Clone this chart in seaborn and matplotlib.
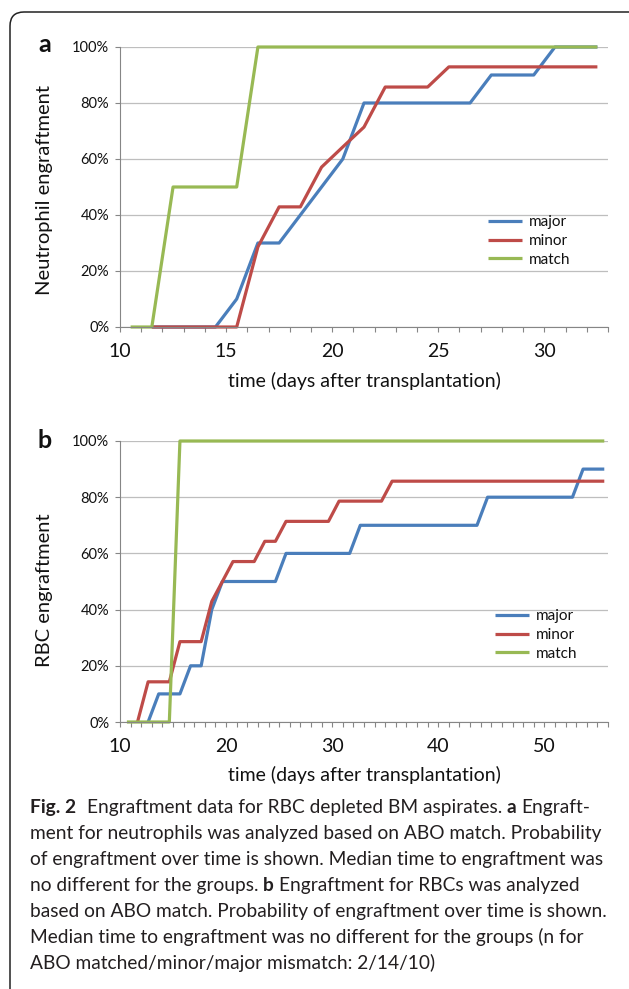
import numpy as np
import pandas as pd
import matplotlib
matplotlib.use("Agg")
import matplotlib.pyplot as plt
import seaborn as sns
from matplotlib.patches import FancyBboxPatch
from matplotlib.lines import Line2D
from matplotlib.ticker import FuncFormatter
from matplotlib.transforms import IdentityTransform

# ---------------- data ----------------
groups = ["major", "minor", "match"]

# Panel a: neutrophil engraftment (%), one value per day (None = no point)
days_a = [10, 11, 12, 13, 14, 15, 16, 17, 18, 19, 20, 21, 22, 23, 24, 25, 26, 27, 28, 29, 30, 31, 32]
major_a = [None, 0, 0, 0, 0, 10, 30, 30, 40, 50, 60, 80, 80, 80, 80, 80, 80, 90, 90, 90, 100, 100, 100]
minor_a = [None, 0, 0, 0, 0, 0, 28.6, 42.9, 42.9, 57.1, 64.3, 71.4, 85.7, 85.7, 85.7,
           92.9, 92.9, 92.9, 92.9, 92.9, 92.9, 92.9, 92.9]
match_a = [0, 0, 50, 50, 50, 50, 100, 100, 100, 100, 100, 100, 100, 100, 100, 100, 100,
           100, 100, 100, 100, 100, 100]

# Panel b: RBC engraftment (%)
days_b = [10, 11, 12, 13, 14, 15, 16, 17, 18, 19, 20, 21, 22, 23, 24, 25, 26, 27, 28, 29,
          30, 31, 32, 33, 34, 35, 36, 37, 38, 39, 40, 41, 42, 43, 44, 45, 46, 47, 48, 49,
          50, 51, 52, 53, 54, 55]
major_b = [None, None, 0, 10, 10, 10, 20, 20, 40, 50, 50, 50, 50, 50, 50, 60, 60, 60, 60, 60,
           60, 60, 70, 70, 70, 70, 70, 70, 70, 70, 70, 70, 70, 70, 80, 80, 80, 80, 80, 80,
           80, 80, 80, 90, 90, 90]
minor_b = [None, 0, 14.3, 14.3, 14.3, 28.6, 28.6, 28.6, 42.9, 50, 57.1, 57.1, 57.1, 64.3, 64.3,
           71.4, 71.4, 71.4, 71.4, 71.4, 78.6, 78.6, 78.6, 78.6, 78.6, 85.7, 85.7, 85.7, 85.7,
           85.7, 85.7, 85.7, 85.7, 85.7, 85.7, 85.7, 85.7, 85.7, 85.7, 85.7, 85.7, 85.7, 85.7,
           85.7, 85.7, 85.7]
match_b = [0, 0, 0, 0, 0] + [100] * 41

xticks_a = [10, 15, 20, 25, 30]
xticks_b = [10, 20, 30, 40, 50]
yticks = [0, 20, 40, 60, 80, 100]

caption_lines = [
    [("Fig. 2", True, 2.2), ("Engraftment data for RBC depleted BM aspirates.", False, 1),
     ("a", True, 1), ("Engraft-", False, 0)],
    [("ment for neutrophils was analyzed based on ABO match. Probability", False, 0)],
    [("of engraftment over time is shown. Median time to engraftment was", False, 0)],
    [("no different for the groups.", False, 1), ("b", True, 1),
     ("Engraftment for RBCs was analyzed", False, 0)],
    [("based on ABO match. Probability of engraftment over time is shown.", False, 0)],
    [("Median time to engraftment was no different for the groups (n for", False, 0)],
    [("ABO matched/minor/major mismatch: 2/14/10)", False, 0)],
]

# ---------------- style ----------------
palette = {"major": "#4A7EBB", "minor": "#BE4B48", "match": "#98B954"}
sns.set_theme(style="white")
FONT = ["Lato", "DejaVu Sans"]
plt.rcParams["font.family"] = FONT
TXT = "#111111"
AXC = "#868686"

W, H = 629, 989
fig = plt.figure(figsize=(W / 100, H / 100), dpi=100)
fig.patch.set_facecolor("white")


def fx(px):
    return px / W


def fy(py):
    return 1 - py / H


def panel(ax, days, series, offset, xmax, xt, ylabel, yl_center, letter, letter_y, xl_y, leg_xy):
    rows = []
    for name in groups:
        for d, v in zip(days, series[name]):
            if v is not None:
                rows.append({"time": d + offset, "pct": v, "group": name})
    df = pd.DataFrame(rows)
    sns.lineplot(data=df, x="time", y="pct", hue="group", hue_order=groups,
                 palette=palette, estimator=None, sort=False, linewidth=2.3,
                 legend=False, ax=ax)
    for ln in ax.lines:
        ln.set_clip_on(False)
        ln.set_solid_capstyle("butt")
        ln.set_solid_joinstyle("round")
    ax.set_xlim(10, xmax)
    ax.set_ylim(0, 100)
    ax.set_xticks(xt)
    ax.set_xticks(np.arange(10, xmax + 0.5, 1), minor=True)
    ax.set_yticks(yticks)
    ax.yaxis.set_major_formatter(FuncFormatter(lambda v, _: f"{int(v)}%"))
    ax.yaxis.grid(True, color="#BEBEBE", lw=0.9)
    ax.xaxis.grid(False)
    ax.set_axisbelow(True)
    for s in ["top", "right"]:
        ax.spines[s].set_visible(False)
    for s in ["left", "bottom"]:
        ax.spines[s].set_color(AXC)
        ax.spines[s].set_linewidth(0.8)
    ax.tick_params(axis="x", which="both", direction="out", length=3.8, width=0.8,
                   color=AXC, labelsize=14, pad=7.5, labelcolor=TXT, bottom=True)
    ax.tick_params(axis="y", which="both", direction="out", length=3.8, width=0.8,
                   color=AXC, labelsize=10.5, pad=4, labelcolor=TXT, left=True)
    ax.set_xlabel("")
    ax.set_ylabel("")
    fig.text(fx(45), fy(yl_center), ylabel, rotation=90, ha="center", va="center",
             fontsize=14.5, color=TXT)
    fig.text(fx(364), fy(xl_y), "time (days after transplantation)", ha="center",
             va="center", fontsize=14, color=TXT)
    fig.text(fx(45), fy(letter_y), letter, ha="center", va="center", fontsize=18,
             fontweight="bold", color=TXT)
    handles = [Line2D([], [], color=palette[g], lw=2.3, solid_capstyle="butt") for g in groups]
    fs = 11
    fpx = fs * 100 / 72
    ax.legend(handles, groups, loc="upper left",
              bbox_to_anchor=(fx(leg_xy[0]), fy(leg_xy[1])), bbox_transform=fig.transFigure,
              frameon=False, fontsize=fs, handlelength=34 / fpx, handletextpad=7 / fpx,
              labelspacing=0.32, borderpad=0, borderaxespad=0, labelcolor=TXT)


ax_a = fig.add_axes([fx(120), fy(327), (608 - 120) / W, (327 - 47) / H])
ax_b = fig.add_axes([fx(120), fy(722), (608 - 120) / W, (722 - 441) / H])

panel(ax_a, days_a, {"major": major_a, "minor": minor_a, "match": match_a}, 0.5, 33,
      xticks_a, "Neutrophil engraftment", 190, "a", 45, 381, (488, 215))
panel(ax_b, days_b, {"major": major_b, "minor": minor_b, "match": match_b}, 0.65, 56,
      xticks_b, "RBC engraftment", 590, "b", 440, 775, (495, 609))

# ---------------- border ----------------
box = FancyBboxPatch((10, -30), 700, (H - 12) + 30, boxstyle="round,pad=0,rounding_size=14",
                     transform=IdentityTransform(), fill=False, lw=1.1, ec="#222222")
fig.add_artist(box)

# ---------------- caption ----------------
CAPC = "#231f20"
renderer = fig.canvas.get_renderer()


def text_w(s, size, bold=False):
    t = fig.text(0, 0, s, fontsize=size, fontweight="bold" if bold else "normal")
    w = t.get_window_extent(renderer).width
    t.remove()
    return w


base = 10.0
target = 606 - 30
w3 = text_w(caption_lines[2][0][0], base)
cap_size = base * target / w3
space_w = text_w("a a", cap_size) - text_w("aa", cap_size)

baselines = [813, 839, 865, 891, 917, 943, 969]
for parts, yb in zip(caption_lines, baselines):
    x = 30.0
    for txt, bold, gap in parts:
        t = fig.text(fx(x), fy(yb), txt, fontsize=cap_size,
                     fontweight="bold" if bold else "normal", ha="left", va="baseline",
                     color=CAPC)
        x += t.get_window_extent(renderer).width + gap * space_w

fig.savefig("out.png", dpi=100)
